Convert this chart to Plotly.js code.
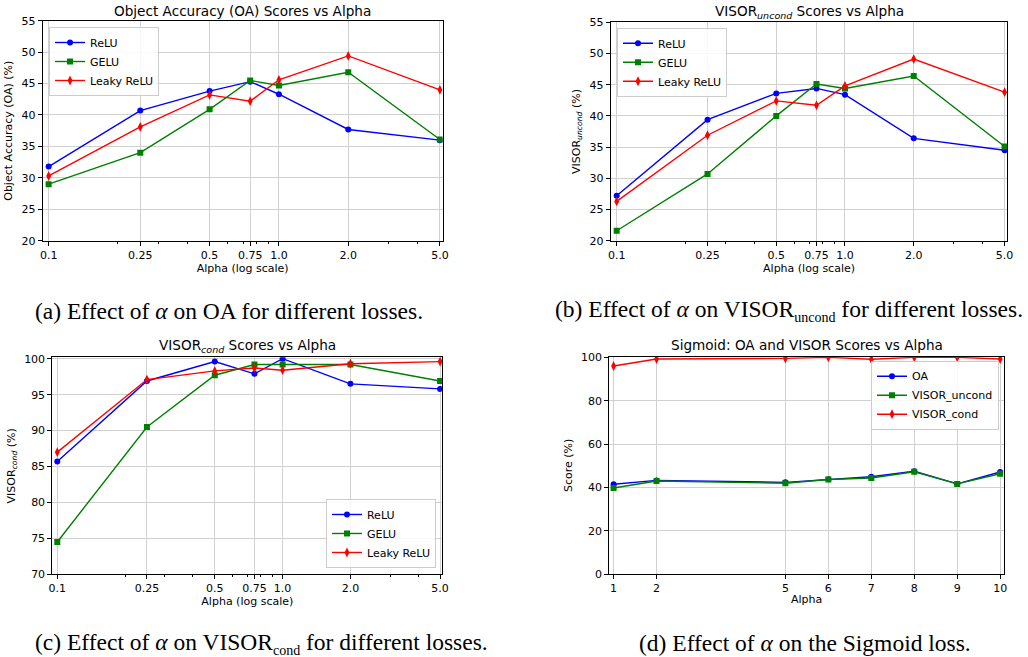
<!DOCTYPE html>
<html>
<head>
<meta charset="utf-8">
<script src="https://cdn.plot.ly/plotly-3.0.1.min.js"></script>
<style>html,body{margin:0;padding:0;background:#fff;}#chart{width:1028px;height:657px;}</style>
</head>
<body>
<div id="chart"></div>
<script>
// ---- data ----
const alphas = [0.1, 0.25, 0.5, 0.75, 1.0, 2.0, 5.0];
const alphaLabels = ['0.1', '0.25', '0.5', '0.75', '1.0', '2.0', '5.0'];

const oaRelu  = [31.8, 40.7, 43.8, 45.3, 43.3, 37.7, 36.0];
const oaGelu  = [29.0, 34.0, 40.9, 45.5, 44.7, 46.8, 36.1];
const oaLeaky = [30.3, 38.1, 43.2, 42.2, 45.6, 49.4, 44.0];

const unRelu  = [27.2, 39.4, 43.6, 44.4, 43.4, 36.4, 34.5];
const unGelu  = [21.6, 30.7, 40.0, 45.1, 44.4, 46.4, 35.1];
const unLeaky = [26.3, 36.9, 42.4, 41.7, 44.8, 49.1, 43.8];

const coRelu  = [85.7, 96.9, 99.6, 97.9, 100.0, 96.5, 95.8];
const coGelu  = [74.5, 90.5, 97.7, 99.2, 99.2, 99.2, 96.9];
const coLeaky = [87.0, 97.1, 98.3, 98.7, 98.4, 99.3, 99.6];

const sigAlphas = [1, 2, 5, 6, 7, 8, 9, 10];
const sigOA     = [41.4, 43.2, 42.3, 43.7, 44.9, 47.4, 41.6, 47.1];
const sigUncond = [39.7, 42.9, 41.9, 43.6, 44.3, 47.2, 41.6, 46.3];
const sigCond   = [96.0, 99.2, 99.5, 100.0, 99.1, 100.0, 100.0, 99.2];

const lossNames = ['ReLU', 'GELU', 'Leaky ReLU'];
const sigNames = ['OA', 'VISOR_uncond', 'VISOR_cond'];

// ---- styling ----
const FONT = 'DejaVu Sans, sans-serif';
const colors = ['#0000ff', '#008000', '#ff0000'];
const symbols = ['circle', 'square', 'diamond-tall'];
const msizes = [6, 6, 7];

function mk(x, y, i, name, xa, ya, leg) {
  return {
    x: x, y: y, name: name, type: 'scatter', mode: 'lines+markers',
    xaxis: xa, yaxis: ya, legend: leg,
    line: {color: colors[i], width: 1.4},
    marker: {color: colors[i], symbol: symbols[i], size: msizes[i]}
  };
}

const traces = [];
[[oaRelu, oaGelu, oaLeaky, 'x', 'y', 'legend'],
 [unRelu, unGelu, unLeaky, 'x2', 'y2', 'legend2'],
 [coRelu, coGelu, coLeaky, 'x3', 'y3', 'legend3']].forEach(g => {
  for (let i = 0; i < 3; i++) traces.push(mk(alphas, g[i], i, lossNames[i], g[3], g[4], g[5]));
});
[sigOA, sigUncond, sigCond].forEach((s, i) => traces.push(mk(sigAlphas, s, i, sigNames[i], 'x4', 'y4', 'legend4')));

const gridc = '#d0d0d0';
function xLog(domain, anchor) {
  return {
    type: 'log', domain: domain, anchor: anchor,
    range: [-1.026, 0.711],
    tickvals: alphas, ticktext: alphaLabels,
    ticks: 'outside', ticklen: 4, tickcolor: '#000',
    showline: true, mirror: true, linecolor: '#000', linewidth: 1,
    showgrid: true, gridcolor: gridc, gridwidth: 1, zeroline: false,
    tickfont: {family: FONT, size: 11, color: '#000'},
    minor: {tickvals: [0.2, 0.3, 0.4, 0.6, 0.7, 0.8, 0.9, 3, 4], ticks: 'outside', ticklen: 2, tickcolor: '#000', showgrid: false},
    title: {text: 'Alpha (log scale)', font: {family: FONT, size: 11, color: '#000'}, standoff: 1}
  };
}
function yLin(domain, anchor, range, dtick, title) {
  return {
    domain: domain, anchor: anchor, range: range, dtick: dtick, tick0: 0,
    ticks: 'outside', ticklen: 4, tickcolor: '#000',
    showline: true, mirror: true, linecolor: '#000', linewidth: 1,
    showgrid: true, gridcolor: gridc, gridwidth: 1, zeroline: false,
    tickfont: {family: FONT, size: 11, color: '#000'},
    title: {text: title, font: {family: FONT, size: 11, color: '#000'}, standoff: 6}
  };
}

const legBase = {
  font: {family: FONT, size: 11, color: '#000'},
  bgcolor: 'rgba(255,255,255,0.85)', bordercolor: '#cccccc', borderwidth: 1,
  itemwidth: 30, tracegroupgap: 0
};

const capFont = {family: 'Liberation Serif, Times New Roman, serif', size: 23.5, color: '#000'};
const titleFont = {family: FONT, size: 13.6, color: '#000'};
const sub = s => '<sub><span style="font-size:14px">' + s + '</span></sub>';

const layout = {
  width: 1028, height: 657,
  margin: {l: 0, r: 0, t: 0, b: 0},
  paper_bgcolor: '#fff', plot_bgcolor: '#fff',
  showlegend: true,
  xaxis: xLog([0.0415, 0.4306], 'y'),
  yaxis: yLin([0.6336, 0.9685], 'x', [20, 55], 5, 'Object Accuracy (OA) (%)'),
  xaxis2: xLog([0.5941, 0.9799], 'y2'),
  yaxis2: yLin([0.6336, 0.9661], 'x2', [20, 55], 5, 'VISOR<sub><i>uncond</i></sub> (%)'),
  xaxis3: Object.assign(xLog([0.0509, 0.4303], 'y3'), {range: [-1.022, 0.709]}),
  yaxis3: yLin([0.1259, 0.4562], 'x3', [70, 100.2], 5, 'VISOR<sub><i>cond</i></sub> (%)'),
  xaxis4: {
    domain: [0.5927, 0.9767], anchor: 'y4', range: [0.9, 10.09],
    tickvals: sigAlphas,
    ticks: 'outside', ticklen: 4, tickcolor: '#000',
    showline: true, mirror: true, linecolor: '#000', linewidth: 1,
    showgrid: true, gridcolor: gridc, gridwidth: 1, zeroline: false,
    tickfont: {family: FONT, size: 11, color: '#000'},
    title: {text: 'Alpha', font: {family: FONT, size: 11, color: '#000'}, standoff: 1}
  },
  yaxis4: yLin([0.1263, 0.4571], 'x4', [0, 100.3], 20, 'Score (%)'),
  legend:  Object.assign({}, legBase, {x: 0.0477, y: 0.9589, xanchor: 'left', yanchor: 'top'}),
  legend2: Object.assign({}, legBase, {x: 0.6002, y: 0.9578, xanchor: 'left', yanchor: 'top'}),
  legend3: Object.assign({}, legBase, {x: 0.4241, y: 0.1355, xanchor: 'right', yanchor: 'bottom'}),
  legend4: Object.assign({}, legBase, {x: 0.9718, y: 0.451, xanchor: 'right', yanchor: 'top'}),
  annotations: [
    {text: 'Object Accuracy (OA) Scores vs Alpha', x: 242, y: 11},
    {text: 'VISOR<sub><i>uncond</i></sub> Scores vs Alpha', x: 809, y: 12},
    {text: 'VISOR<sub><i>cond</i></sub> Scores vs Alpha', x: 247, y: 346},
    {text: 'Sigmoid: OA and VISOR Scores vs Alpha', x: 807, y: 345}
  ].map(a => ({text: a.text, x: a.x / 1028, y: 1 - a.y / 657, xref: 'paper', yref: 'paper',
               xanchor: 'center', yanchor: 'middle', showarrow: false, font: titleFont}))
  .concat([
    {text: '(a) Effect of <i>α</i> on OA for different losses.', x: 33, y: 311, xa: 'left'},
    {text: '(b) Effect of <i>α</i> on VISOR' + sub('uncond') + ' for different losses.', x: 1025, y: 311, xa: 'right'},
    {text: '(c) Effect of <i>α</i> on VISOR' + sub('cond') + ' for different losses.', x: 33, y: 643, xa: 'left'},
    {text: '(d) Effect of <i>α</i> on the Sigmoid loss.', x: 805, y: 643, xa: 'center'}
  ].map(a => ({text: a.text, x: a.x / 1028, y: 1 - a.y / 657, xref: 'paper', yref: 'paper',
               xanchor: a.xa, yanchor: 'middle', showarrow: false, font: capFont})))
};

Plotly.newPlot('chart', traces, layout, {displayModeBar: false, staticPlot: true});
</script>
</body>
</html>
